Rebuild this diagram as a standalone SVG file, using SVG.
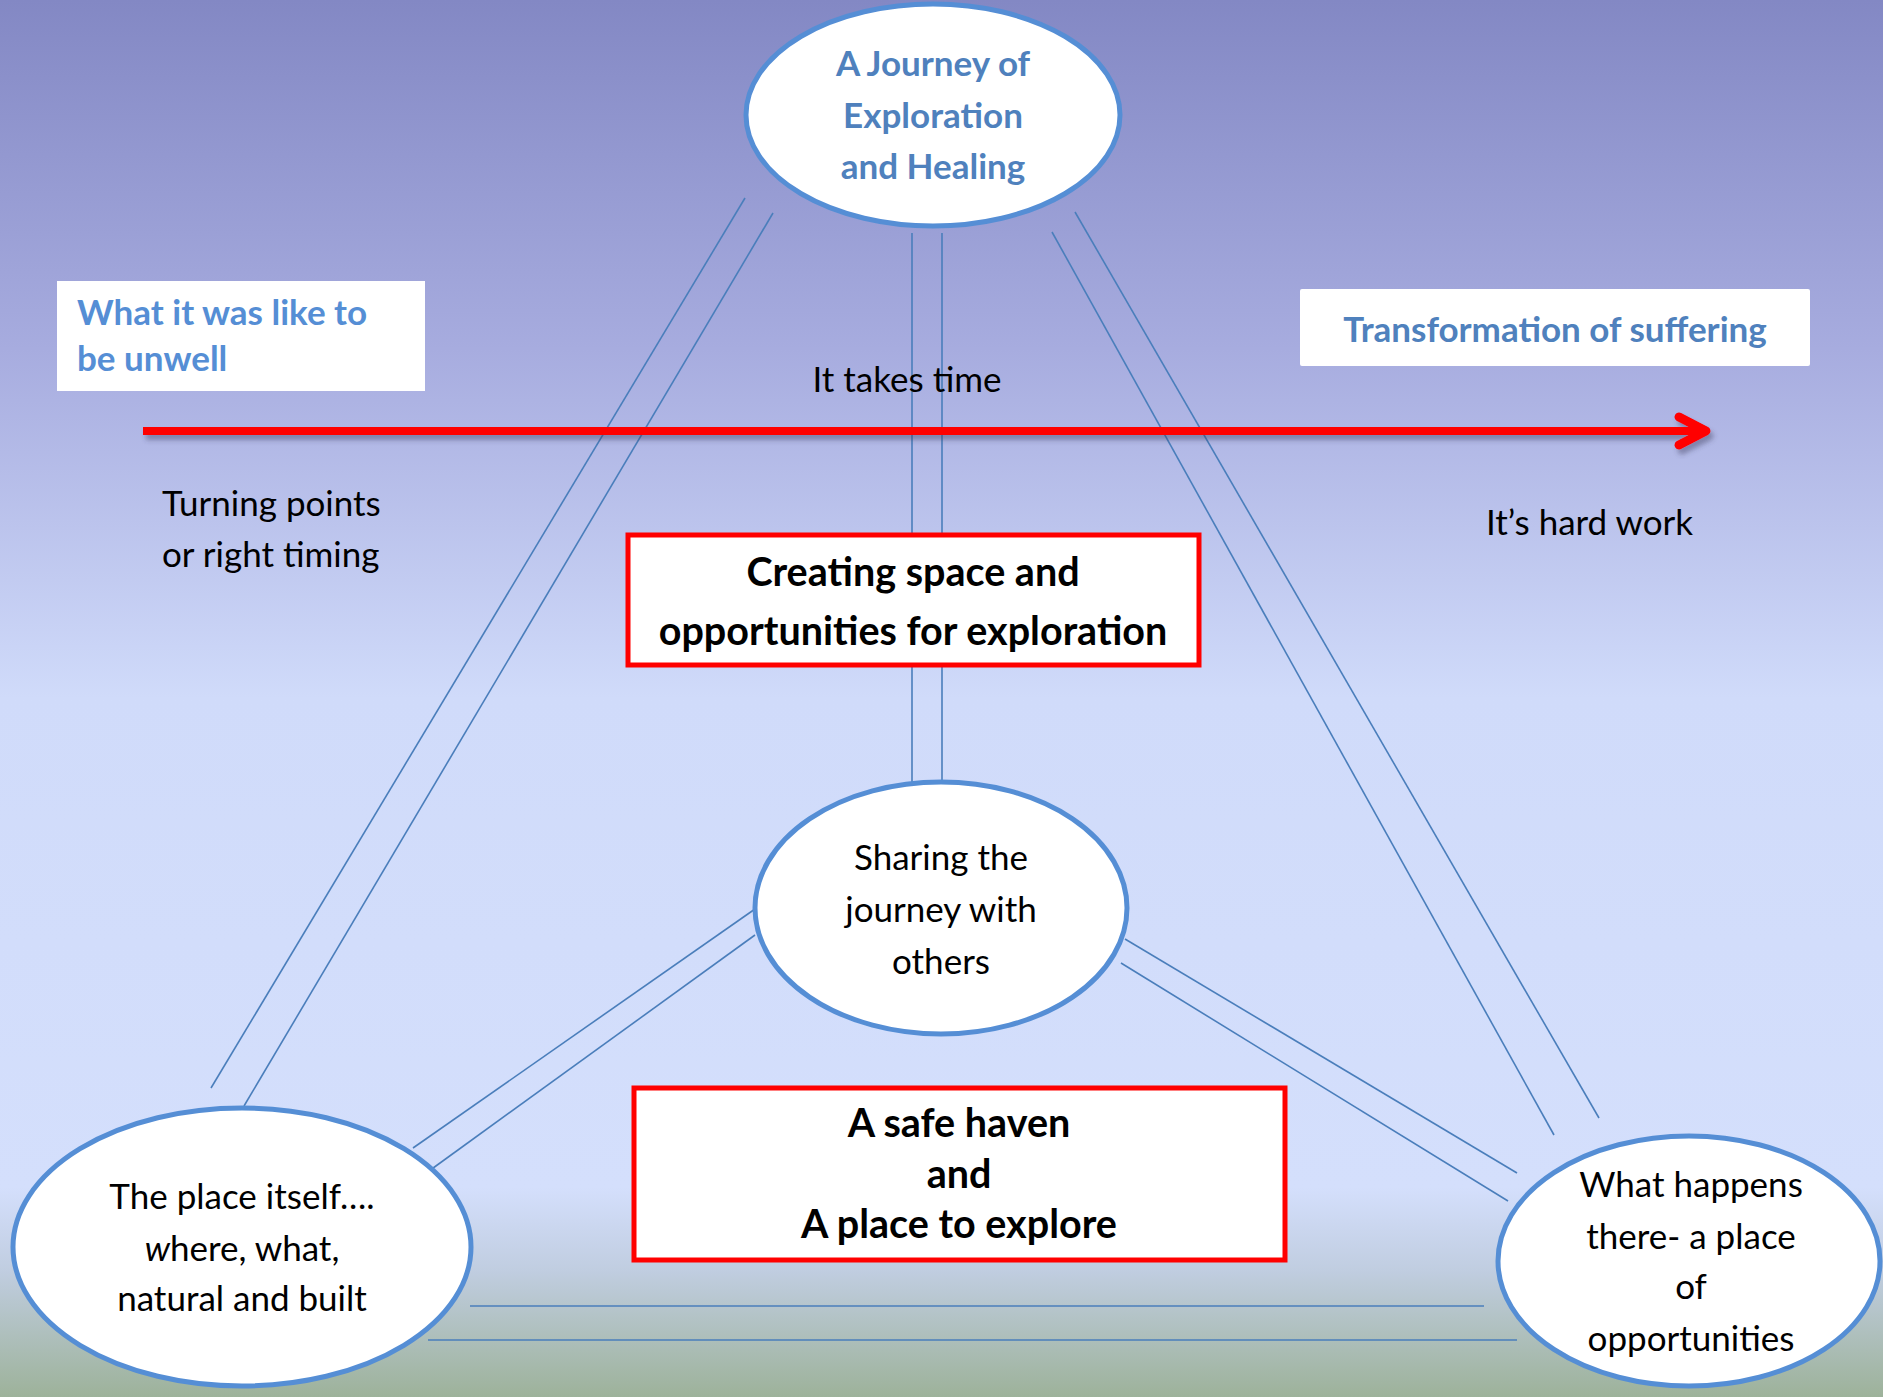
<svg xmlns="http://www.w3.org/2000/svg" width="1883" height="1397" viewBox="0 0 1883 1397">
<defs>
<linearGradient id="bg" x1="0" y1="0" x2="0" y2="1">
<stop offset="0" stop-color="#8388c4"/>
<stop offset="0.25" stop-color="#a7acdf"/>
<stop offset="0.5" stop-color="#d0dbfa"/>
<stop offset="0.85" stop-color="#d4dffc"/>
<stop offset="0.91" stop-color="#c0cde0"/>
<stop offset="1" stop-color="#9db29a"/>
</linearGradient>
<filter id="shadow" x="-5%" y="-50%" width="110%" height="200%">
<feGaussianBlur in="SourceAlpha" stdDeviation="2.5"/>
<feOffset dx="3" dy="5" result="b"/>
<feFlood flood-color="#404060" flood-opacity="0.45"/>
<feComposite in2="b" operator="in"/>
<feMerge><feMergeNode/><feMergeNode in="SourceGraphic"/></feMerge>
</filter>
</defs>
<style>
.conn{stroke:#4a7ebb;stroke-width:1.6;fill:none}
.ell{fill:#ffffff;stroke:#558ed5;stroke-width:5}
.redbox{fill:#ffffff;stroke:#ff0000;stroke-width:5}
.wbox{fill:#ffffff}
.reg{font-family:Lato,"Open Sans",sans-serif;font-size:35px;fill:#000000}
.bld{font-family:Lato,"Open Sans",sans-serif;font-size:39.5px;font-weight:bold;fill:#000000}
.blue{font-family:Lato,"Open Sans",sans-serif;font-size:35px;font-weight:bold;fill:#4f81bd}
.lblue{fill:#558ed5}
.mid{text-anchor:middle}
</style>
<rect x="0" y="0" width="1883" height="1397" fill="url(#bg)"/>

<g id="connectors">
<line class="conn" x1="745" y1="198" x2="211" y2="1088"/>
<line class="conn" x1="773" y1="213" x2="244" y2="1106"/>
<line class="conn" x1="912" y1="233" x2="912" y2="782"/>
<line class="conn" x1="942" y1="233" x2="942" y2="782"/>
<line class="conn" x1="1052" y1="232" x2="1554" y2="1135"/>
<line class="conn" x1="1075" y1="212" x2="1599" y2="1118"/>
<line class="conn" x1="755" y1="909" x2="413" y2="1148"/>
<line class="conn" x1="755" y1="935" x2="429" y2="1171"/>
<line class="conn" x1="1125" y1="939" x2="1517" y2="1173"/>
<line class="conn" x1="1121" y1="963" x2="1508" y2="1201"/>
<line class="conn" x1="470" y1="1306" x2="1484" y2="1306"/>
<line class="conn" x1="428" y1="1340" x2="1517" y2="1340"/>
</g>

<g id="timeline-arrow" filter="url(#shadow)">
<line x1="143" y1="431" x2="1700" y2="431" stroke="#ff0000" stroke-width="8"/>
<polyline points="1679,417 1706,431 1679,445" fill="none" stroke="#ff0000" stroke-width="9" stroke-linecap="round" stroke-linejoin="round"/>
</g>

<g id="label-time">
<text class="reg mid" x="907" y="392">It takes time</text>
</g>
<g id="label-turning">
<text class="reg" x="162" y="516">Turning points</text>
<text class="reg" x="162" y="567">or right timing</text>
</g>
<g id="label-hard">
<text class="reg" x="1486" y="535">It’s hard work</text>
</g>

<g id="node-unwell">
<rect class="wbox" x="57" y="281" width="368" height="110"/>
<text class="blue lblue" x="77" y="325">What it was like to</text>
<text class="blue lblue" x="77" y="371">be unwell</text>
</g>

<g id="node-transformation">
<rect class="wbox" x="1300" y="289" width="510" height="77" rx="2"/>
<text class="blue mid" x="1555" y="342">Transformation of suffering</text>
</g>

<g id="node-journey">
<ellipse class="ell" cx="933" cy="115" rx="187" ry="111"/>
<text class="blue mid" x="933" y="76">A Journey of</text>
<text class="blue mid" x="933" y="128">Exploration</text>
<text class="blue mid" x="933" y="179">and Healing</text>
</g>

<g id="node-creating">
<rect class="redbox" x="628" y="535" width="571" height="130"/>
<text class="bld mid" x="913" y="586">Creating space and</text>
<text class="bld mid" x="913" y="645">opportunities for exploration</text>
</g>

<g id="node-sharing">
<ellipse class="ell" cx="941" cy="908" rx="186" ry="126"/>
<text class="reg mid" x="941" y="870">Sharing the</text>
<text class="reg mid" x="941" y="922">journey with</text>
<text class="reg mid" x="941" y="974">others</text>
</g>

<g id="node-haven">
<rect class="redbox" x="634" y="1088" width="651" height="172"/>
<text class="bld mid" x="959" y="1137">A safe haven</text>
<text class="bld mid" x="959" y="1188">and</text>
<text class="bld mid" x="959" y="1238">A place to explore</text>
</g>

<g id="node-place">
<ellipse class="ell" cx="242" cy="1247" rx="229" ry="139"/>
<text class="reg mid" x="242" y="1209">The place itself….</text>
<text class="reg mid" x="242" y="1261"><tspan font-style="italic">w</tspan>here, what,</text>
<text class="reg mid" x="242" y="1311">natural and built</text>
</g>

<g id="node-happens">
<ellipse class="ell" cx="1689" cy="1261" rx="191" ry="125"/>
<text class="reg mid" x="1691" y="1197">What happens</text>
<text class="reg mid" x="1691" y="1249">there- a place</text>
<text class="reg mid" x="1691" y="1299">of</text>
<text class="reg mid" x="1691" y="1351">opportunities</text>
</g>
</svg>
